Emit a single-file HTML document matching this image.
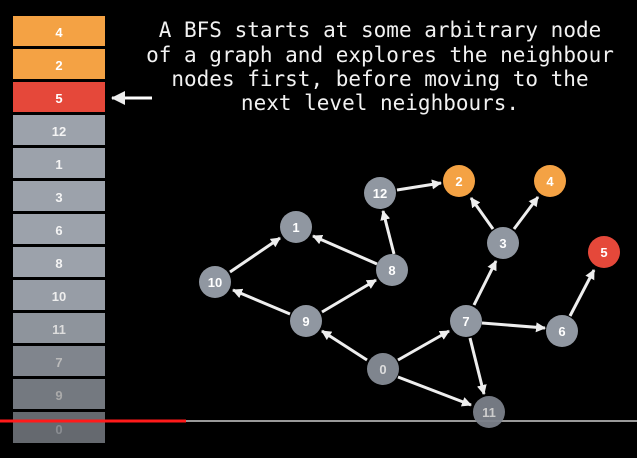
<!DOCTYPE html>
<html><head><meta charset="utf-8"><style>
html,body{margin:0;padding:0;background:#000;width:637px;height:458px;overflow:hidden}
</style></head><body>
<svg width="637" height="458" xmlns="http://www.w3.org/2000/svg" style="display:block">
<defs>
<marker id="ah" markerWidth="10" markerHeight="10" refX="9" refY="5" orient="auto" markerUnits="userSpaceOnUse">
<path d="M0,0 L10,5 L0,10 Z" fill="#eee"/></marker>
<marker id="ah2" markerWidth="14" markerHeight="14" refX="13" refY="7" orient="auto" markerUnits="userSpaceOnUse">
<path d="M0,0 L14,7 L0,14 Z" fill="#eee"/></marker>
</defs>
<rect width="637" height="458" fill="#000"/>
<g font-family="Liberation Sans, sans-serif" font-weight="bold" font-size="13" text-anchor="middle">
<rect x="13" y="16" width="92" height="30" fill="#f4a244"/><text x="59" y="37" fill="#fff">4</text>
<rect x="13" y="49" width="92" height="30" fill="#f4a244"/><text x="59" y="70" fill="#fff">2</text>
<rect x="13" y="82" width="92" height="30" fill="#e5483a"/><text x="59" y="103" fill="#fff">5</text>
<rect x="13" y="115" width="92" height="30" fill="#9ca2ab"/><text x="59" y="136" fill="#f4f4f4">12</text>
<rect x="13" y="148" width="92" height="30" fill="#9ca2ab"/><text x="59" y="169" fill="#f4f4f4">1</text>
<rect x="13" y="181" width="92" height="30" fill="#9ca2ab"/><text x="59" y="202" fill="#f4f4f4">3</text>
<rect x="13" y="214" width="92" height="30" fill="#9ca2ab"/><text x="59" y="235" fill="#f4f4f4">6</text>
<rect x="13" y="247" width="92" height="30" fill="#9ca2ab"/><text x="59" y="268" fill="#f4f4f4">8</text>
<rect x="13" y="280" width="92" height="30" fill="#979da6"/><text x="59" y="301" fill="#eee">10</text>
<rect x="13" y="313" width="92" height="30" fill="#8e949c"/><text x="59" y="334" fill="#ddd">11</text>
<rect x="13" y="346" width="92" height="30" fill="#80858d"/><text x="59" y="367" fill="#bbb">7</text>
<rect x="13" y="379" width="92" height="30" fill="#747980"/><text x="59" y="400" fill="#aaa">9</text>
<rect x="13" y="412" width="92" height="31" fill="#65696f"/><text x="59" y="434" fill="#8a8d92">0</text>
</g>
<line x1="186" y1="421" x2="637" y2="421" stroke="#999" stroke-width="2"/>
<line x1="0" y1="421" x2="186" y2="421" stroke="#ff1a1a" stroke-width="3"/>
<line x1="152" y1="98" x2="112" y2="98" stroke="#fff" stroke-width="3" marker-end="url(#ah2)"/>
<g font-family="DejaVu Sans Mono, Liberation Mono, monospace" font-size="21" fill="#f2f2f2" text-anchor="middle">
<text x="380" y="37">A BFS starts at some arbitrary node</text>
<text x="380" y="62">of a graph and explores the neighbour</text>
<text x="380" y="86">nodes first, before moving to the</text>
<text x="380" y="110">next level neighbours.</text>
</g>
<g stroke="#eee" stroke-width="3" marker-end="url(#ah)">
<line x1="397" y1="190" x2="441" y2="183"/>
<line x1="394" y1="254" x2="383" y2="211"/>
<line x1="377" y1="264" x2="313" y2="236"/>
<line x1="230" y1="272" x2="280" y2="238"/>
<line x1="322" y1="312" x2="376" y2="280"/>
<line x1="290" y1="314" x2="233" y2="290"/>
<line x1="367" y1="360" x2="322" y2="331"/>
<line x1="398" y1="360" x2="449" y2="331"/>
<line x1="398" y1="377" x2="471" y2="405"/>
<line x1="474" y1="305" x2="496" y2="261"/>
<line x1="493" y1="229" x2="471" y2="198"/>
<line x1="514" y1="229" x2="538" y2="197"/>
<line x1="482" y1="323" x2="545" y2="328"/>
<line x1="570" y1="316" x2="594" y2="270"/>
<line x1="470" y1="338" x2="484" y2="394"/>
</g>
<g font-family="Liberation Sans, sans-serif" font-weight="bold" font-size="13" text-anchor="middle" fill="#fff">
<circle cx="459" cy="181" r="16" fill="#f4a244"/><text x="459" y="186">2</text>
<circle cx="550" cy="181" r="16" fill="#f4a244"/><text x="550" y="186">4</text>
<circle cx="380" cy="193" r="16" fill="#9097a1"/><text x="380" y="198">12</text>
<circle cx="296" cy="227" r="16" fill="#9097a1"/><text x="296" y="232">1</text>
<circle cx="503" cy="243" r="16" fill="#9097a1"/><text x="503" y="248">3</text>
<circle cx="604" cy="252" r="16" fill="#e5483a"/><text x="604" y="257">5</text>
<circle cx="392" cy="270" r="16" fill="#9097a1"/><text x="392" y="275">8</text>
<circle cx="215" cy="282" r="16" fill="#9097a1"/><text x="215" y="287">10</text>
<circle cx="306" cy="321" r="16" fill="#9097a1"/><text x="306" y="326">9</text>
<circle cx="466" cy="321" r="16" fill="#9097a1"/><text x="466" y="326">7</text>
<circle cx="562" cy="331" r="16" fill="#9097a1"/><text x="562" y="336">6</text>
<circle cx="383" cy="369" r="16" fill="#7f858e"/><text x="383" y="374" fill="#ddd">0</text>
<circle cx="489" cy="412" r="16" fill="#7a8089" opacity="0.95"/><text x="489" y="417" fill="#ccc">11</text>
</g>
</svg>
</body></html>
